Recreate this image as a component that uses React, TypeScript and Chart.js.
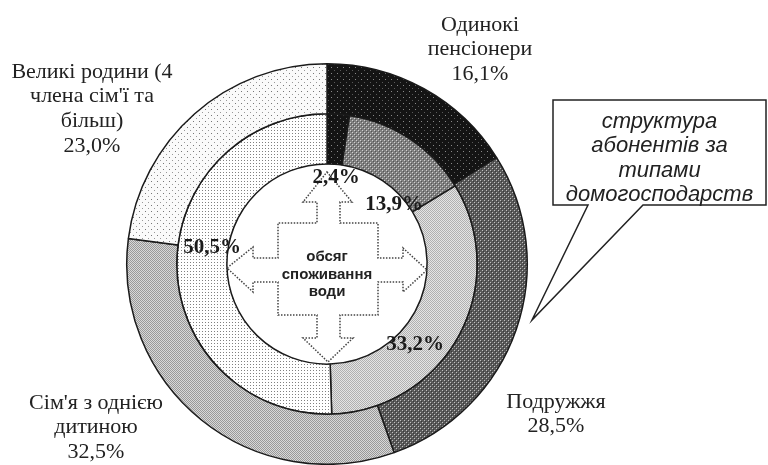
import React, { useEffect, useRef } from 'react';
import { Chart, registerables } from 'chart.js';

Chart.register(...registerables);

// ---- data ----
const householdTypes = [
  'Одинокі пенсіонери',
  'Подружжя',
  "Сім'я з однією дитиною",
  "Великі родини (4 члена сім'ї та більш)",
];
const subscriberShare = [16.1, 28.5, 32.5, 23.0]; // outer ring: структура абонентів
const consumptionShare = [2.4, 13.9, 33.2, 50.5]; // inner ring: обсяг споживання води
const outerLabelLines = [
  ['Одинокі', 'пенсіонери'],
  ['Подружжя'],
  ["Сім'я з однією", 'дитиною'],
  ['Великі родини (4', "члена сім'ї та", 'більш)'],
];
const calloutLines = ['структура', 'абонентів за', 'типами', 'домогосподарств'];
const centerLines = ['обсяг', 'споживання', 'води'];

// ---- layout (offsets relative to the doughnut centre) ----
const outerLabelPos = [
  [153, -239],
  [229, 138],
  [-231, 139],
  [-235, -192],
];
const innerLabelPos = [
  [9, -86],
  [67, -59],
  [88, 81],
  [-115, -16],
];

const fmt = (v: number) => v.toFixed(1).replace('.', ',') + '%';

function makePattern(size: number, bg: string, px: [number, number, string][]) {
  const c = document.createElement('canvas');
  c.width = size;
  c.height = size;
  const g = c.getContext('2d')!;
  g.fillStyle = bg;
  g.fillRect(0, 0, size, size);
  for (const [x, y, col] of px) {
    g.fillStyle = col;
    g.fillRect(x, y, 1, 1);
  }
  return g.createPattern(c, 'repeat')!;
}

export default function App() {
  const ref = useRef<HTMLCanvasElement>(null);

  useEffect(() => {
    document.body.style.margin = '0';
    const canvas = ref.current!;
    const ctx0 = canvas.getContext('2d')!;

    const darkDots = makePattern(6, '#141414', [[1, 1, '#8a8a8a'], [4, 4, '#5a5a5a']]);
    const darkHatch = makePattern(4, '#5a5a5a', [[0, 0, '#c0c0c0'], [2, 2, '#c0c0c0'], [1, 1, '#3a3a3a'], [3, 3, '#3a3a3a']]);
    const midHatch = makePattern(4, '#808080', [[0, 0, '#d0d0d0'], [2, 2, '#d0d0d0'], [1, 1, '#555555'], [3, 3, '#555555']]);
    const lightCheck = makePattern(2, '#d8d8d8', [[0, 0, '#999999'], [1, 1, '#999999']]);
    const lighterCheck = makePattern(2, '#e4e4e4', [[0, 0, '#b0b0b0'], [1, 1, '#b0b0b0']]);
    const sparseDots = makePattern(6, '#fafafa', [[1, 1, '#777777'], [4, 4, '#999999']]);
    const denseDots = makePattern(3, '#ffffff', [[1, 1, '#808080']]);

    const decor = {
      id: 'decor',
      afterDatasetsDraw(chart: any) {
        const ctx = chart.ctx as CanvasRenderingContext2D;
        const arc = chart.getDatasetMeta(0).data[0] as any;
        const cx = arc.x;
        const cy = arc.y;

        // dotted four-way arrow in the centre
        const pts = [
          [0, -92], [25, -62], [13, -62], [13, -41], [51, -41], [51, -6], [76, -6], [76, -16],
          [100, 6], [76, 28], [76, 18], [51, 18], [51, 51], [13, 51], [13, 74], [26, 74],
          [1, 98], [-24, 74], [-10, 74], [-10, 51], [-49, 51], [-49, 18], [-74, 18], [-74, 28],
          [-100, 4], [-74, -17], [-74, -6], [-49, -6], [-49, -41], [-10, -41], [-10, -62], [-24, -62],
        ];
        ctx.save();
        ctx.beginPath();
        pts.forEach(([x, y], i) => (i ? ctx.lineTo(cx + x, cy + y) : ctx.moveTo(cx + x, cy + y)));
        ctx.closePath();
        ctx.setLineDash([1.5, 1.5]);
        ctx.lineWidth = 1.5;
        ctx.strokeStyle = '#444';
        ctx.stroke();
        ctx.setLineDash([]);

        ctx.fillStyle = '#222';
        ctx.font = 'bold 15px "Liberation Sans", Arial, sans-serif';
        ctx.textAlign = 'center';
        ctx.textBaseline = 'middle';
        centerLines.forEach((t, i) => ctx.fillText(t, cx, cy - 7 + i * 17.5));

        // inner ring percentages
        ctx.font = 'bold 21px "Liberation Serif", "Times New Roman", serif';
        ctx.fillStyle = '#1a1a1a';
        consumptionShare.forEach((v, i) => {
          const [dx, dy] = innerLabelPos[i];
          ctx.fillText(fmt(v), cx + dx, cy + dy);
        });

        // outer ring labels
        ctx.font = '22px "Liberation Serif", "Times New Roman", serif';
        ctx.fillStyle = '#222';
        subscriberShare.forEach((v, i) => {
          const [dx, dy] = outerLabelPos[i];
          const lines = [...outerLabelLines[i], fmt(v)];
          lines.forEach((t, j) => ctx.fillText(t, cx + dx, cy + dy + j * 24.7));
        });

        // callout
        const bx0 = cx + 226, bx1 = cx + 439, by0 = cy - 164, by1 = cy - 59;
        ctx.beginPath();
        ctx.moveTo(bx0, by0);
        ctx.lineTo(bx1, by0);
        ctx.lineTo(bx1, by1);
        ctx.lineTo(cx + 316, by1);
        ctx.lineTo(cx + 205, cy + 56);
        ctx.lineTo(cx + 261, by1);
        ctx.lineTo(bx0, by1);
        ctx.closePath();
        ctx.fillStyle = '#fff';
        ctx.fill();
        ctx.lineWidth = 1.5;
        ctx.strokeStyle = '#222';
        ctx.stroke();
        ctx.fillStyle = '#222';
        ctx.font = 'italic 22px "Liberation Sans", Arial, sans-serif';
        calloutLines.forEach((t, i) => ctx.fillText(t, (bx0 + bx1) / 2, by0 + 22 + i * 24.3));
        ctx.restore();
      },
    };

    const chart = new Chart(ctx0, {
      type: 'doughnut',
      data: {
        labels: householdTypes,
        datasets: [
          {
            data: subscriberShare,
            backgroundColor: [darkDots, darkHatch, lightCheck, sparseDots] as any,
            borderColor: '#1a1a1a',
            borderWidth: 1.5,
          },
          {
            data: consumptionShare,
            backgroundColor: [darkDots, midHatch, lighterCheck, denseDots] as any,
            borderColor: '#1a1a1a',
            borderWidth: 1.5,
          },
        ],
      },
      options: {
        responsive: false,
        animation: false,
        cutout: '50%',
        layout: { padding: { left: 126, right: 240, top: 63, bottom: 0 } },
        plugins: { legend: { display: false }, tooltip: { enabled: false } },
        events: [],
      },
      plugins: [decor],
    });
    return () => chart.destroy();
  }, []);

  return (
    <div style={{ width: 768, height: 465, background: '#fff' }}>
      <canvas ref={ref} width={768} height={465} style={{ display: 'block' }} />
    </div>
  );
}
